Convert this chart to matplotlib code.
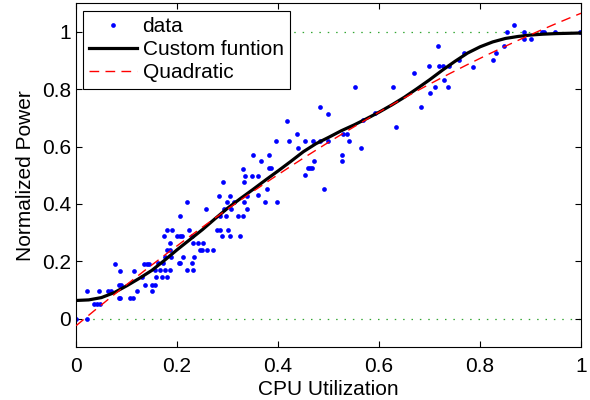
import numpy as np
import matplotlib
matplotlib.use("Agg")
import matplotlib.pyplot as plt

plt.rcParams['font.family'] = ['Liberation Sans', 'DejaVu Sans']

# ---- data points (CPU utilization, normalized power) ----
x_data = [
    0.000, 0.021, 0.022, 0.036, 0.041, 0.048, 0.046, 0.064, 0.070, 0.077,
    0.087, 0.084, 0.088, 0.084, 0.087, 0.107, 0.113, 0.115, 0.120, 0.135,
    0.140, 0.145, 0.137, 0.130, 0.150, 0.150, 0.156,
    0.156, 0.166, 0.176, 0.186, 0.219, 0.232,
    0.158, 0.170, 0.180,
    0.163, 0.173, 0.203, 0.206, 0.229,
    0.176, 0.188, 0.211, 0.234,
    0.180, 0.186, 0.246, 0.249, 0.259, 0.271,
    0.186, 0.232, 0.242, 0.251,
    0.174, 0.199, 0.206, 0.209, 0.229, 0.289, 0.304, 0.325,
    0.180, 0.190, 0.224, 0.279, 0.285, 0.300,
    0.206, 0.285, 0.297, 0.321, 0.330,
    0.257, 0.292, 0.306, 0.338,
    0.219, 0.298, 0.313, 0.333,
    0.282, 0.305, 0.339,
    0.290, 0.333,
    0.335, 0.348, 0.361,
    0.330,
    0.482, 0.498, 0.418, 0.438,
    0.396, 0.421, 0.454, 0.469, 0.483, 0.498,
    0.528, 0.536, 0.541, 0.440,
    0.350, 0.381, 0.526,
    0.366, 0.471, 0.526,
    0.381, 0.386, 0.460, 0.463, 0.467,
    0.453, 0.378, 0.491, 0.361, 0.374, 0.397,
    0.698, 0.719, 0.727, 0.739, 0.669, 0.553, 0.627, 0.729, 0.711, 0.737,
    0.700, 0.683, 0.568, 0.591, 0.633, 0.565,
    0.717, 0.758, 0.768, 0.786, 0.825, 0.832, 0.848, 0.853, 0.868, 0.887,
    0.887, 0.900, 0.922, 0.927, 0.949, 0.998,
]
y_data = [
    0.000, 0.000, 0.095, 0.049, 0.049, 0.049, 0.095, 0.095, 0.095, 0.190,
    0.165, 0.118, 0.118, 0.073, 0.073, 0.073, 0.073, 0.165, 0.095, 0.190,
    0.190, 0.190, 0.118, 0.145, 0.095, 0.118, 0.118,
    0.171, 0.171, 0.171, 0.171, 0.171, 0.171,
    0.145, 0.145, 0.145,
    0.192, 0.192, 0.192, 0.192, 0.192,
    0.215, 0.215, 0.215, 0.215,
    0.240, 0.240, 0.240, 0.240, 0.240, 0.240,
    0.264, 0.264, 0.264, 0.264,
    0.287, 0.287, 0.287, 0.287, 0.287, 0.287, 0.287, 0.287,
    0.310, 0.310, 0.310, 0.310, 0.310, 0.310,
    0.357, 0.357, 0.357, 0.357, 0.357,
    0.381, 0.381, 0.381, 0.381,
    0.405, 0.405, 0.405, 0.405,
    0.429, 0.429, 0.429,
    0.476, 0.476,
    0.498, 0.498, 0.498,
    0.520,
    0.738, 0.714, 0.690, 0.644,
    0.618, 0.618, 0.618, 0.618, 0.618, 0.618,
    0.644, 0.644, 0.618, 0.595,
    0.571, 0.571, 0.571,
    0.548, 0.548, 0.548,
    0.525, 0.525, 0.525, 0.525, 0.525,
    0.499, 0.453, 0.453, 0.430, 0.405, 0.405,
    0.882, 0.882, 0.882, 0.882, 0.858, 0.809, 0.809, 0.833, 0.809, 0.809,
    0.786, 0.738, 0.691, 0.717, 0.667, 0.596,
    0.952, 0.902, 0.928, 0.879, 0.902, 0.928, 0.952, 0.999, 1.023, 0.999,
    0.975, 0.975, 1.000, 1.000, 1.000, 1.000,
]

# ---- custom function curve ----
custom_x = [0.000, 0.025, 0.050, 0.075, 0.100, 0.125, 0.150, 0.175, 0.200, 0.225,
            0.250, 0.275, 0.300, 0.325, 0.350, 0.375, 0.400, 0.425, 0.450, 0.475,
            0.500, 0.525, 0.550, 0.575, 0.600, 0.625, 0.650, 0.675, 0.700, 0.725,
            0.750, 0.775, 0.800, 0.825, 0.850, 0.875, 0.900, 0.925, 0.950, 0.975,
            1.000]
custom_y = [0.063, 0.065, 0.073, 0.090, 0.114, 0.140, 0.168, 0.203, 0.240, 0.275,
            0.310, 0.348, 0.385, 0.418, 0.450, 0.483, 0.515, 0.548, 0.582, 0.610,
            0.632, 0.655, 0.675, 0.697, 0.720, 0.745, 0.772, 0.802, 0.833, 0.866,
            0.897, 0.926, 0.948, 0.965, 0.977, 0.984, 0.989, 0.992, 0.994, 0.995,
            0.996]

# ---- quadratic fit coefficients (c2, c1, c0) ----
quad_coeffs = [-0.38, 1.47, -0.025]

legend_labels = ['data', 'Custom funtion', 'Quadratic']
x_ticks = [0, 0.2, 0.4, 0.6, 0.8, 1]
x_tick_labels = ['0', '0.2', '0.4', '0.6', '0.8', '1']
y_ticks = [0, 0.2, 0.4, 0.6, 0.8, 1]
y_tick_labels = ['0', '0.2', '0.4', '0.6', '0.8', '1']
ref_levels = [0, 1]

FS = 15

fig = plt.figure(figsize=(5.9, 4.0), dpi=100)
ax = fig.add_axes([0.129, 0.132, 0.856, 0.860])

for lvl in ref_levels:
    ax.axhline(lvl, color=(0.2, 0.65, 0.2), linestyle=(0, (1.2, 5.5)), linewidth=0.9, zorder=1)

h_data, = ax.plot(x_data, y_data, linestyle='none', marker='o', markersize=3.4,
                  color='#0000ff', markeredgewidth=0, label=legend_labels[0], zorder=2)
h_cust, = ax.plot(custom_x, custom_y, color='black', linewidth=2.3,
                  solid_joinstyle='round', label=legend_labels[1], zorder=3)
xq = np.linspace(0, 1, 200)
h_quad, = ax.plot(xq, np.polyval(quad_coeffs, xq), color='red', linewidth=1.0,
                  linestyle=(0, (7, 4.5)), label=legend_labels[2], zorder=4)

ax.set_xlim(0, 1)
ax.set_ylim(-0.1, 1.1)
ax.set_xticks(x_ticks)
ax.set_xticklabels(x_tick_labels)
ax.set_yticks(y_ticks)
ax.set_yticklabels(y_tick_labels)
ax.tick_params(direction='in', top=True, right=True, labelsize=FS, length=4, width=0.8)
ax.tick_params(axis='x', pad=7)
ax.tick_params(axis='y', pad=3.5)
for s in ax.spines.values():
    s.set_linewidth(0.8)

ax.set_xlabel('CPU Utilization', fontsize=FS, labelpad=3)
ax.set_ylabel('Normalized Power', fontsize=FS, labelpad=5)

leg = ax.legend(handles=[h_data, h_cust, h_quad], loc='upper left',
                bbox_to_anchor=(0.0139, 0.978), fontsize=FS, frameon=True,
                fancybox=False, shadow=False, borderpad=0.3, labelspacing=0.2,
                handlelength=2.3, handletextpad=0.25, borderaxespad=0.0)
leg.get_frame().set_edgecolor('black')
leg.get_frame().set_linewidth(0.8)
leg.get_frame().set_alpha(1)

fig.savefig('out.png', dpi=100)
